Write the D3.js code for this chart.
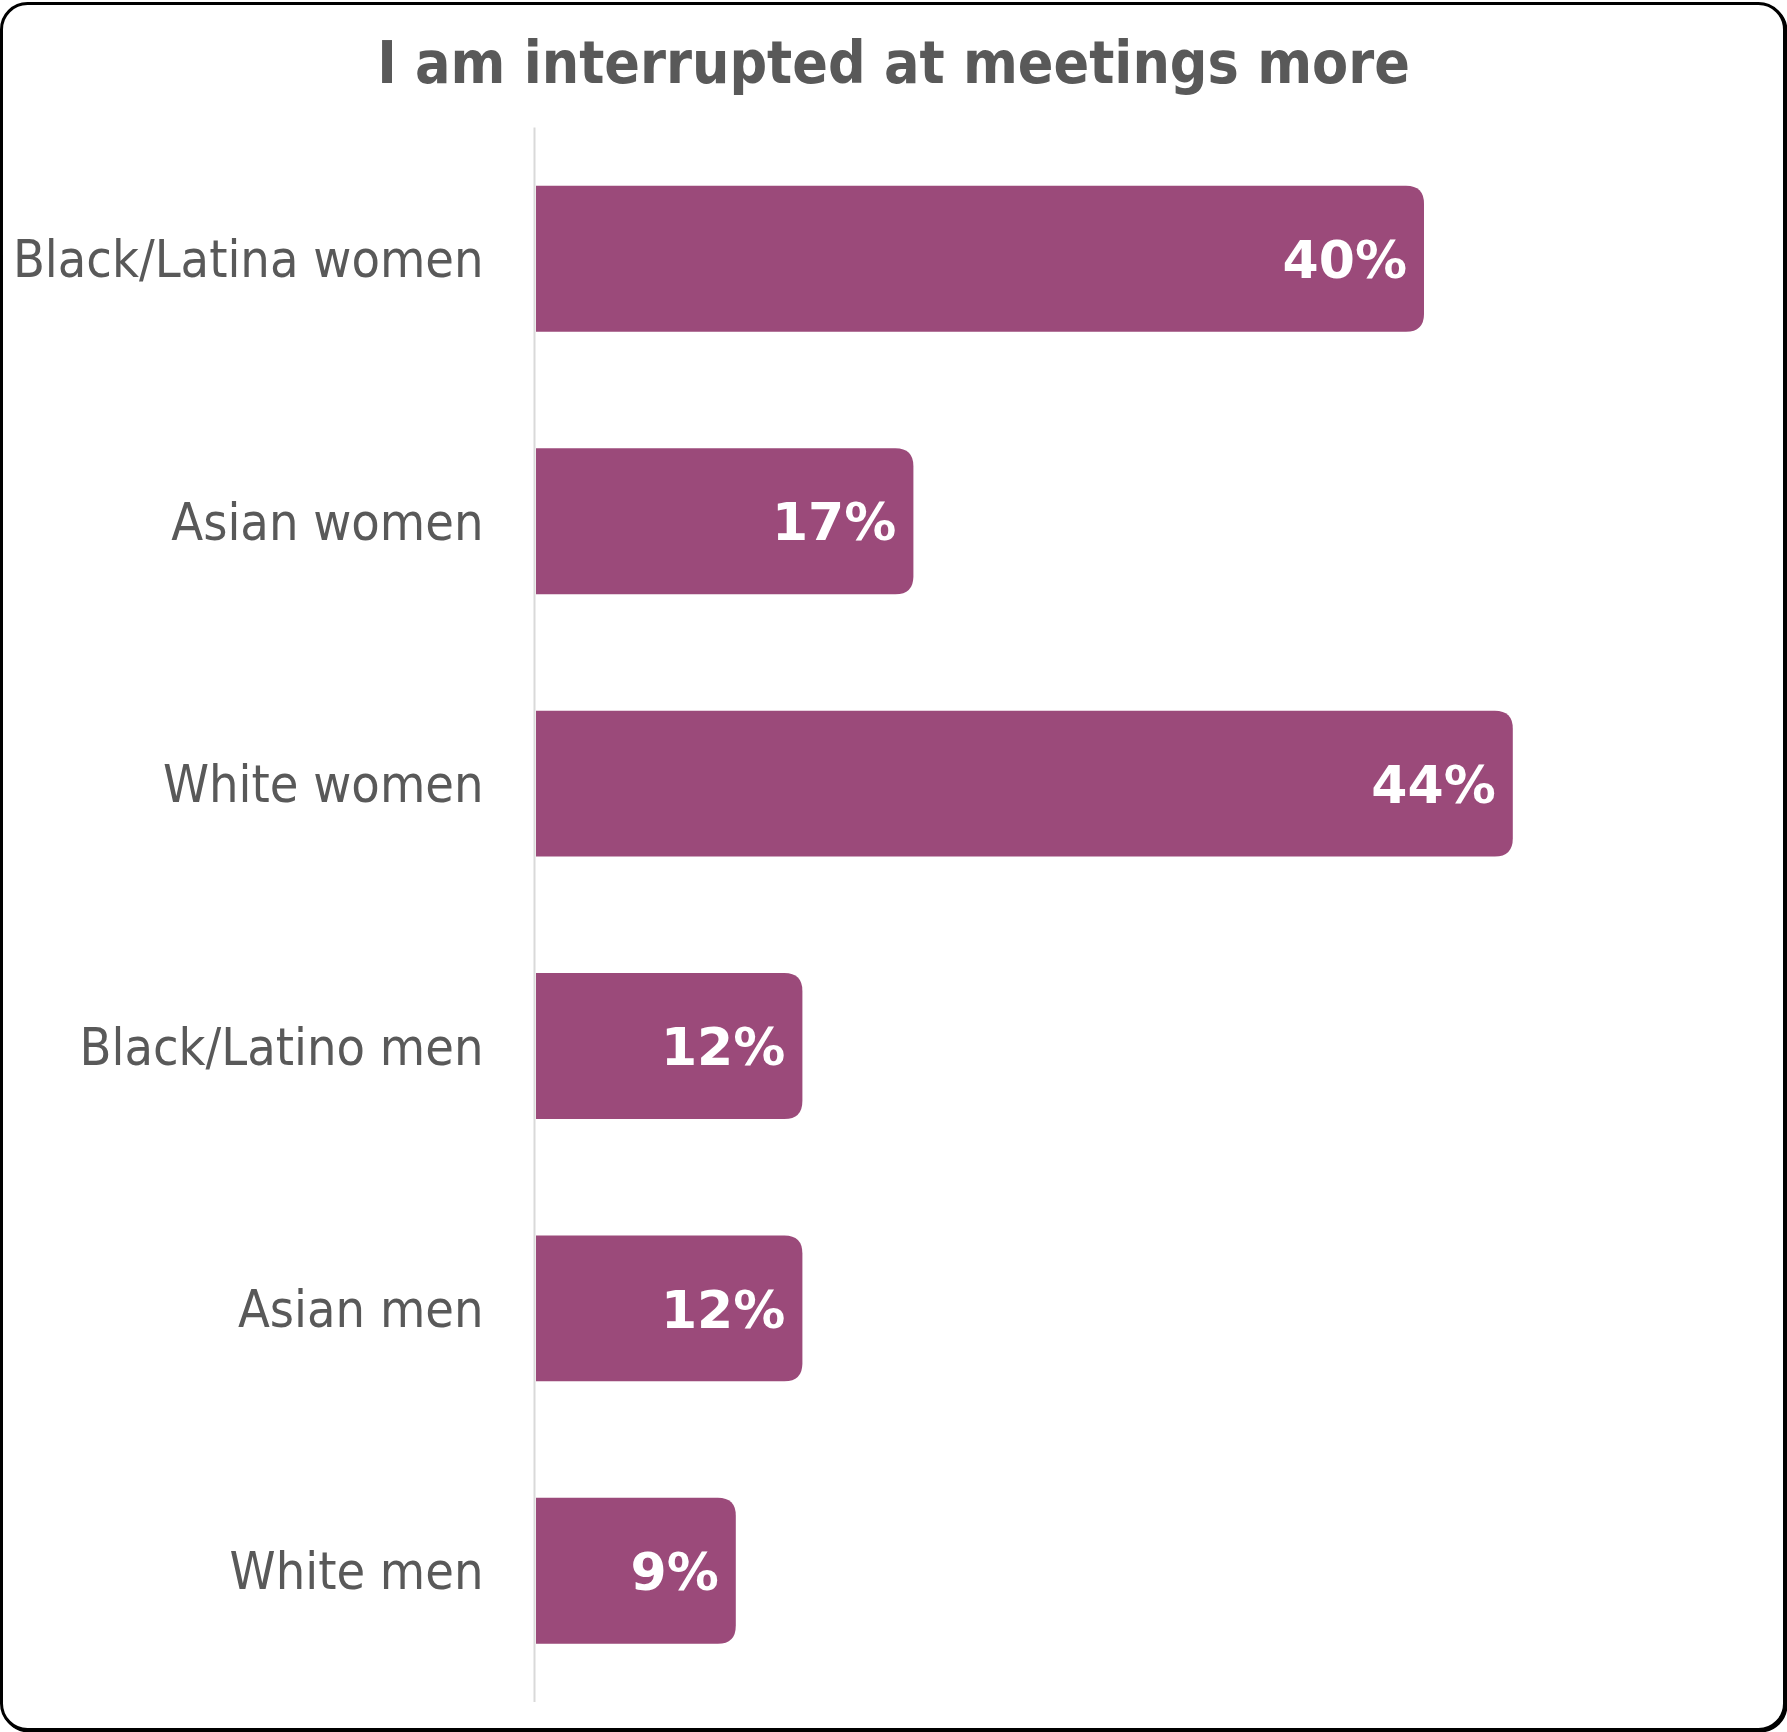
<!DOCTYPE html>
<html>
<head>
<meta charset="utf-8">
<script src="https://cdn.jsdelivr.net/npm/d3@7"></script>
<style>
  html, body { margin: 0; padding: 0; background: #ffffff; }
  svg { display: block; }
</style>
</head>
<body>
<svg id="chart" width="1787" height="1732"></svg>
<script>
// Share of respondents saying "I am interrupted at meetings more"
const categories = [
  "Black/Latina women",
  "Asian women",
  "White women",
  "Black/Latino men",
  "Asian men",
  "White men"
];
const values = [40, 17, 44, 12, 12, 9];
const titleText = "I am interrupted at meetings more";

const W = 1787, H = 1732;
const barColor = "#9b4a7a";
const textColor = "#595959";
const condensed = "'DejaVu Sans Condensed', 'DejaVu Sans', sans-serif";
const regular = "'DejaVu Sans', sans-serif";

const svg = d3.select("#chart");

// Rounded frame around the whole chart (with a faint offset edge)
svg.append("rect")
  .attr("x", 3).attr("y", 5)
  .attr("width", W - 4).attr("height", H - 6)
  .attr("rx", 26).attr("ry", 26)
  .attr("fill", "none")
  .attr("stroke", "#000")
  .attr("stroke-width", 3);
svg.append("rect")
  .attr("x", 1.5).attr("y", 3.5)
  .attr("width", W - 4).attr("height", H - 6)
  .attr("rx", 26).attr("ry", 26)
  .attr("fill", "#fff")
  .attr("stroke", "#000")
  .attr("stroke-width", 3);

const plot = { left: 536, top: 127.6, bottom: 1702 };

const x = d3.scaleLinear()
  .domain([0, 50])
  .range([plot.left, plot.left + 1110]);

const y = d3.scaleBand()
  .domain(categories)
  .range([plot.top, plot.bottom])
  .paddingInner(0.444)
  .paddingOuter(0.222);

// Title
svg.append("text")
  .attr("x", W / 2)
  .attr("y", 83)
  .attr("text-anchor", "middle")
  .attr("font-family", condensed)
  .attr("font-weight", "bold")
  .attr("font-size", 58.5)
  .attr("fill", textColor)
  .text(titleText);

// Bars with rounded right end, square left end
const r = 18;
function barPath(d, i) {
  const x0 = x(0), x1 = x(values[i]);
  const y0 = y(d), h = y.bandwidth(), y1 = y0 + h;
  const rr = Math.min(r, (x1 - x0) / 2, h / 2);
  return `M${x0},${y0}H${x1 - rr}Q${x1},${y0} ${x1},${y0 + rr}` +
         `V${y1 - rr}Q${x1},${y1} ${x1 - rr},${y1}H${x0}Z`;
}

svg.append("g")
  .selectAll("path")
  .data(categories)
  .join("path")
  .attr("d", barPath)
  .attr("fill", barColor);

// Vertical category axis
const yAxis = d3.axisLeft(y).tickSize(0).tickPadding(51);
const gy = svg.append("g")
  .attr("transform", `translate(${plot.left - 1.5},0)`)
  .call(yAxis);
gy.select(".domain")
  .attr("d", `M0,${plot.top}V${plot.bottom}`)
  .attr("stroke", "#d9d9d9")
  .attr("stroke-width", 2);
gy.selectAll(".tick text")
  .attr("font-family", condensed)
  .attr("font-size", 51.8)
  .attr("fill", textColor)
  .attr("dy", "0.36em");

// Value labels inside bar ends
svg.append("g")
  .selectAll("text")
  .data(categories)
  .join("text")
  .attr("x", (d, i) => x(values[i]) - 17)
  .attr("y", d => y(d) + y.bandwidth() / 2)
  .attr("dy", "0.37em")
  .attr("text-anchor", "end")
  .attr("font-family", regular)
  .attr("font-weight", "bold")
  .attr("font-size", 52)
  .attr("fill", "#ffffff")
  .text((d, i) => values[i] + "%");
</script>
</body>
</html>
